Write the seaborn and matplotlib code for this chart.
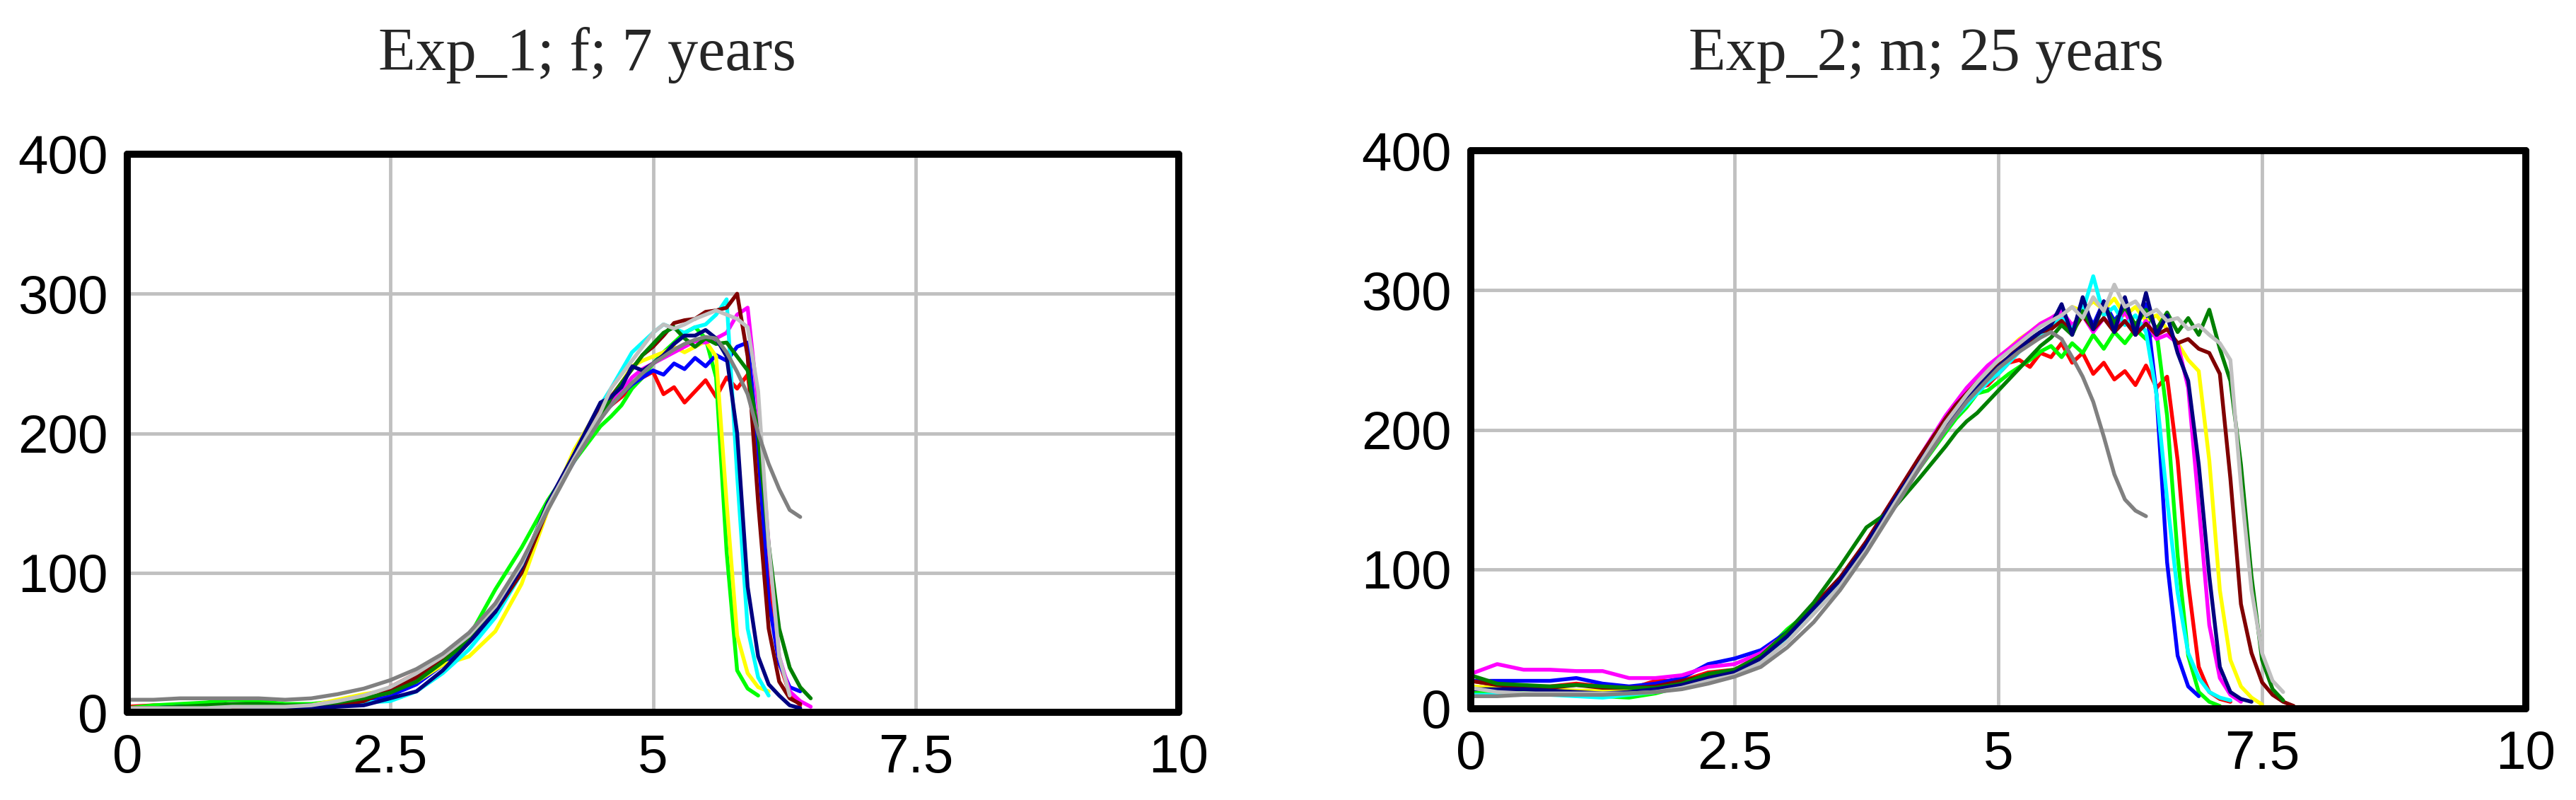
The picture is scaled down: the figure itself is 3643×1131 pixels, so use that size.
import numpy as np
import pandas as pd
import matplotlib
matplotlib.use("Agg")
import matplotlib.pyplot as plt
import seaborn as sns
from matplotlib.ticker import MultipleLocator, FuncFormatter

# ---------------- data ----------------
TITLES = ["Exp_1; f; 7 years", "Exp_2; m; 25 years"]

# sampling grids (x)
XL = [0, 0.25, 0.5, 0.75, 1.0, 1.25, 1.5, 1.75, 2.0, 2.25, 2.5, 2.75, 3.0, 3.25,
      3.5, 3.75, 4.0, 4.25, 4.5, 4.6, 4.7, 4.8, 4.9, 5.0, 5.1, 5.2, 5.3, 5.4,
      5.5, 5.6, 5.7, 5.8, 5.9, 6.0, 6.1, 6.2, 6.3, 6.4, 6.5]
XR = [0, 0.25, 0.5, 0.75, 1.0, 1.25, 1.5, 1.75, 2.0, 2.25, 2.5, 2.75, 3.0, 3.25,
      3.5, 3.75, 4.0, 4.25, 4.5, 4.6, 4.7, 4.8, 4.9, 5.0, 5.1, 5.2, 5.3, 5.4,
      5.5, 5.6, 5.7, 5.8, 5.9, 6.0, 6.1, 6.2, 6.3, 6.4, 6.5, 6.6, 6.7, 6.8,
      6.9, 7.0, 7.1, 7.2, 7.3, 7.4, 7.5, 7.6, 7.7, 7.8]

CURVES = ["red", "lime", "blue", "yellow", "magenta", "cyan",
          "maroon", "green", "navy", "silver", "gray"]
COLORS = {"red": "#ff0000", "lime": "#00ff00", "blue": "#0000ff",
          "yellow": "#ffff00", "magenta": "#ff00ff", "cyan": "#00ffff",
          "maroon": "#800000", "green": "#008000", "navy": "#000080",
          "silver": "#c0c0c0", "gray": "#808080"}

# panel 1 values
L_red = [4, 5, 5, 4, 4, 4, 3, 4, 6, 9, 18, 28, 38, 52, 70, 100, 146, 182, 215, 220,
         226, 233, 240, 244, 228, 233, 222, 230, 238, 226, 240, 232, 242, 185, 92,
         36, 13, 5]
L_lime = [3, 5, 6, 7, 9, 8, 6, 6, 8, 11, 16, 24, 36, 54, 88, 118, 152, 180, 205, 212,
          220, 232, 240, 250, 258, 265, 272, 276, 268, 240, 115, 30, 17, 12]
L_blue = [2, 3, 4, 4, 4, 3, 4, 5, 6, 8, 12, 20, 34, 50, 70, 102, 148, 180, 212, 220,
          228, 235, 240, 245, 242, 250, 246, 254, 248, 256, 252, 262, 265, 190, 80,
          35, 18, 15]
L_yellow = [2, 3, 3, 2, 3, 3, 3, 5, 9, 13, 16, 22, 34, 40, 58, 92, 145, 188, 220, 226,
            236, 248, 252, 255, 258, 262, 258, 262, 266, 255, 150, 55, 28, 18, 15]
L_magenta = [1, 2, 3, 4, 5, 5, 4, 5, 7, 10, 14, 24, 38, 52, 72, 102, 148, 183, 214,
             222, 230, 240, 246, 250, 254, 258, 262, 266, 265, 268, 272, 285, 290,
             220, 120, 40, 15, 8, 4]
L_cyan = [1, 1, 2, 2, 3, 3, 3, 4, 5, 7, 8, 15, 28, 45, 68, 100, 148, 182, 220, 232,
          245, 258, 265, 272, 278, 275, 272, 276, 278, 285, 296, 170, 60, 25, 12]
L_maroon = [3, 3, 3, 4, 3, 3, 2, 3, 5, 8, 16, 25, 38, 52, 72, 100, 146, 184, 218, 226,
            236, 246, 256, 262, 270, 279, 281, 282, 287, 288, 290, 300, 255, 150, 60,
            22, 10, 6]
L_green = [2, 3, 4, 5, 6, 6, 5, 5, 7, 10, 14, 22, 36, 52, 74, 104, 150, 182, 212, 225,
           236, 246, 256, 264, 272, 276, 268, 262, 268, 264, 265, 255, 245, 200, 120,
           60, 32, 18, 10]
L_navy = [0, 0, 1, 1, 1, 2, 2, 3, 4, 5, 10, 15, 30, 50, 72, 104, 150, 185, 222, 226,
          233, 248, 245, 250, 256, 264, 270, 270, 274, 268, 255, 200, 90, 40, 20, 12,
          5, 3]
L_silver = [3, 3, 3, 3, 4, 4, 4, 5, 8, 12, 18, 28, 40, 55, 76, 106, 148, 182, 215, 232,
            242, 252, 262, 272, 278, 275, 278, 282, 285, 288, 285, 282, 276, 230, 120,
            40, 12]
L_gray = [9, 9, 10, 10, 10, 10, 9, 10, 13, 17, 23, 31, 42, 57, 78, 108, 145, 180, 210,
          220, 228, 236, 243, 250, 255, 260, 264, 267, 269, 268, 258, 244, 228, 200,
          178, 160, 145, 140]

# panel 2 values
R_red = [20, 17, 16, 16, 18, 16, 14, 20, 20, 26, 28, 38, 52, 72, 92, 118, 148, 178,
         205, 215, 222, 230, 232, 240, 248, 250, 245, 255, 252, 262, 248, 255, 240,
         248, 236, 242, 232, 246, 230, 238, 178, 90, 30, 12, 7, 5]
R_lime = [12, 12, 11, 11, 10, 9, 8, 11, 16, 22, 26, 38, 57, 72, 92, 116, 145, 172, 198,
          208, 216, 226, 228, 234, 240, 245, 250, 256, 260, 252, 262, 255, 268, 258,
          270, 262, 272, 265, 270, 210, 110, 38, 12, 5, 2]
R_blue = [20, 20, 20, 20, 22, 18, 16, 18, 22, 32, 36, 42, 55, 72, 90, 115, 145, 176,
          204, 214, 222, 230, 236, 242, 250, 258, 262, 268, 272, 285, 270, 290, 275,
          292, 278, 288, 272, 290, 225, 105, 38, 16, 9]
R_yellow = [16, 15, 14, 14, 13, 13, 14, 15, 19, 23, 26, 36, 50, 70, 92, 120, 150, 180,
            208, 218, 228, 236, 244, 252, 258, 265, 270, 276, 280, 282, 288, 285, 292,
            286, 294, 282, 288, 278, 282, 272, 262, 250, 242, 178, 85, 35, 16, 8, 3]
R_magenta = [25, 32, 28, 28, 27, 27, 22, 22, 24, 30, 32, 40, 54, 72, 92, 120, 150, 180,
             210, 220, 230, 238, 246, 252, 258, 264, 270, 276, 280, 285, 275, 282, 270,
             280, 272, 285, 268, 278, 265, 268, 262, 230, 146, 60, 22, 10, 5]
R_cyan = [10, 10, 10, 10, 9, 8, 10, 12, 16, 21, 25, 34, 50, 70, 90, 115, 145, 174, 200,
          210, 218, 226, 234, 240, 248, 256, 262, 268, 274, 280, 272, 285, 310, 282,
          288, 275, 282, 270, 225, 150, 83, 40, 22, 12, 8, 6]
R_maroon = [20, 17, 15, 15, 17, 15, 15, 16, 20, 24, 27, 38, 54, 74, 94, 120, 150, 180,
            208, 218, 226, 234, 240, 246, 252, 260, 264, 270, 272, 278, 270, 282, 272,
            280, 270, 278, 268, 276, 268, 272, 262, 265, 258, 255, 240, 165, 75, 40, 19,
            10, 5, 2]
R_green = [24, 18, 17, 16, 17, 16, 15, 15, 18, 25, 28, 38, 55, 76, 102, 130, 143, 165,
           188, 198, 206, 212, 220, 228, 236, 244, 252, 260, 266, 275, 268, 285, 272,
           290, 276, 288, 275, 286, 272, 284, 270, 280, 268, 286, 258, 235, 175, 95, 35,
           14, 6]
R_navy = [14, 14, 14, 13, 12, 11, 12, 14, 17, 22, 26, 36, 52, 72, 92, 118, 148, 176,
          204, 212, 222, 230, 238, 245, 252, 258, 265, 270, 275, 290, 268, 295, 272,
          292, 270, 295, 268, 298, 268, 282, 255, 235, 175, 95, 30, 12, 7, 5]
R_silver = [15, 12, 11, 11, 11, 11, 11, 12, 15, 20, 24, 33, 48, 68, 88, 114, 145, 175,
            205, 215, 225, 234, 242, 250, 256, 262, 268, 274, 278, 282, 288, 280, 295,
            285, 304, 288, 292, 282, 286, 278, 280, 272, 275, 268, 262, 250, 160, 85,
            40, 20, 12]
R_gray = [9, 9, 10, 10, 10, 10, 11, 12, 14, 18, 23, 30, 44, 62, 85, 112, 142, 172, 200,
          210, 220, 228, 236, 244, 250, 256, 261, 266, 270, 265, 252, 238, 220, 195,
          168, 150, 142, 138]

PANELS = [
    (XL, {"red": L_red, "lime": L_lime, "blue": L_blue, "yellow": L_yellow,
          "magenta": L_magenta, "cyan": L_cyan, "maroon": L_maroon, "green": L_green,
          "navy": L_navy, "silver": L_silver, "gray": L_gray}),
    (XR, {"red": R_red, "lime": R_lime, "blue": R_blue, "yellow": R_yellow,
          "magenta": R_magenta, "cyan": R_cyan, "maroon": R_maroon, "green": R_green,
          "navy": R_navy, "silver": R_silver, "gray": R_gray}),
]

# ---------------- style ----------------
sns.set_style("white")
plt.rcParams['font.family'] = ['Liberation Sans Narrow', 'Liberation Sans', 'DejaVu Sans']

W, H = 3643, 1131
fig = plt.figure(figsize=(W / 100, H / 100), dpi=100)

AX_BOX = [(180, 218, 1667, 1007), (2080, 213, 3572, 1002)]   # px: left, top, right, bottom
TITLE_POS = [(830, 99), (2724, 99)]

fmt = FuncFormatter(lambda v, p: "%g" % v)

for i, (xgrid, series) in enumerate(PANELS):
    l, t, r, b = AX_BOX[i]
    ax = fig.add_axes([l / W, 1 - b / H, (r - l) / W, (b - t) / H])
    rows = []
    for name in CURVES:
        vals = series[name]
        for xv, yv in zip(xgrid[:len(vals)], vals):
            rows.append((name, xv, yv))
    df = pd.DataFrame(rows, columns=["curve", "x", "y"])
    sns.lineplot(data=df, x="x", y="y", hue="curve", hue_order=CURVES,
                 palette=COLORS, estimator=None, sort=False, legend=False,
                 linewidth=3.9, ax=ax)
    ax.set_xlim(0, 10)
    ax.set_ylim(0, 400)
    ax.set_xlabel("")
    ax.set_ylabel("")
    ax.set_axisbelow(True)
    ax.grid(True, which="major", color="#c0c0c0", linewidth=3.5)
    ax.xaxis.set_major_locator(MultipleLocator(2.5))
    ax.xaxis.set_minor_locator(MultipleLocator(1.25))
    ax.yaxis.set_major_locator(MultipleLocator(100))
    ax.yaxis.set_minor_locator(MultipleLocator(50))
    ax.xaxis.set_major_formatter(fmt)
    ax.yaxis.set_major_formatter(fmt)
    ax.tick_params(which="major", direction="inout", length=29, width=7.2,
                   color="black", labelsize=55, labelcolor="black")
    ax.tick_params(which="minor", direction="inout", length=19, width=7.2,
                   color="black")
    ax.tick_params(axis="x", which="major", pad=7)
    ax.tick_params(axis="y", which="major", pad=5)
    for s in ax.spines.values():
        s.set_visible(True)
        s.set_linewidth(7.2)
        s.set_color("black")
        s.set_capstyle("round")
        s.set_zorder(5)
    tx, ty = TITLE_POS[i]
    fig.text(tx / W, 1 - ty / H, TITLES[i], ha="center", va="baseline",
             fontsize=62, family=["Liberation Serif", "DejaVu Serif"])

fig.savefig("out.png", dpi=100)
